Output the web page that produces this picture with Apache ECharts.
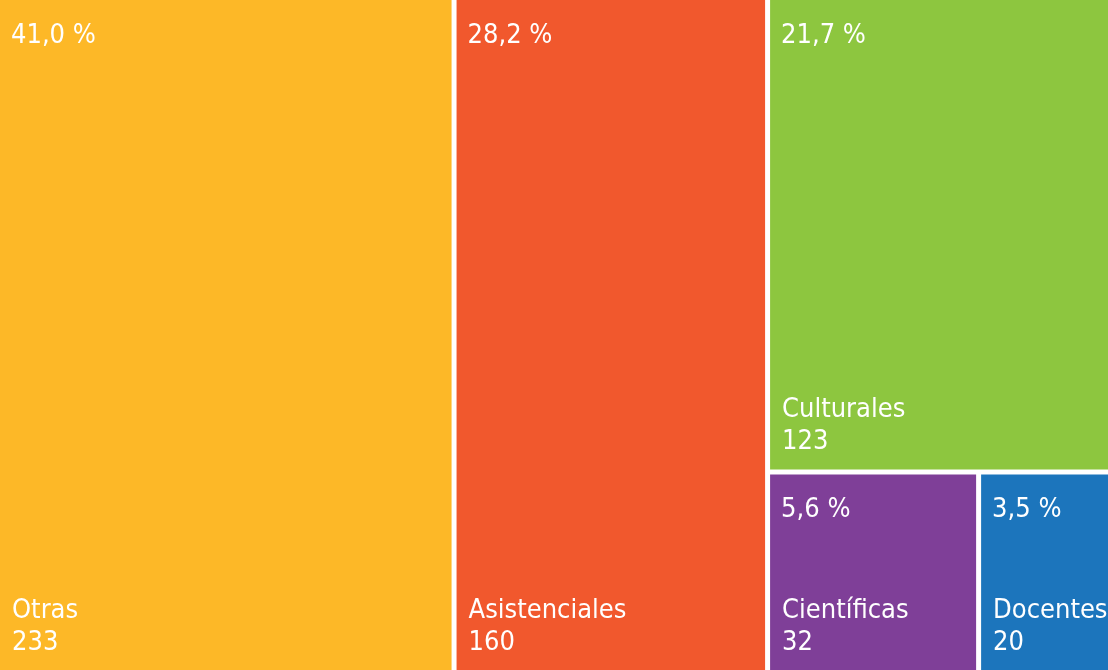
<!DOCTYPE html>
<html>
<head>
<meta charset="utf-8">
<script src="https://cdn.jsdelivr.net/npm/echarts@6/dist/echarts.min.js"></script>
<style>
  html, body { margin: 0; padding: 0; background: #ffffff; }
  #chart { width: 1108px; height: 670px; }
</style>
</head>
<body>
<div id="chart"></div>
<script>
// ---- data ----
const categories = ['Otras', 'Asistenciales', 'Culturales', 'Científicas', 'Docentes'];
const values = [233, 160, 123, 32, 20];
const colors = ['#FDB827', '#F1582D', '#8DC63F', '#7F3F98', '#1C75BC'];

const total = values.reduce((a, b) => a + b, 0);
const FONT = "'DejaVu Sans', sans-serif";

function leaf(i, transparent) {
  return {
    name: categories[i],
    value: values[i],
    itemStyle: { color: transparent ? 'rgba(0,0,0,0)' : colors[i] }
  };
}
// nested hierarchy: each item sits beside the group of the remaining ones
function nest(i, transparent) {
  if (i === categories.length - 2) {
    return [leaf(i, transparent), leaf(i + 1, transparent)];
  }
  const rest = nest(i + 1, transparent);
  return [leaf(i, transparent), { name: 'g' + i, children: rest }];
}

function pct(v) {
  return (v / total * 100).toFixed(1).replace('.', ',') + ' %';
}

const common = {
  type: 'treemap',
  left: 0, top: 0, right: 0, bottom: 0,
  sort: false,
  roam: false,
  nodeClick: false,
  squareRatio: 0.5 * (1 + Math.sqrt(5)),
  breadcrumb: { show: false },
  animation: false,
  emphasis: { disabled: true },
  upperLabel: { show: false }
};

const option = {
  backgroundColor: '#ffffff',
  animation: false,
  series: [
    Object.assign({}, common, {
      name: 'main',
      itemStyle: { borderWidth: 0, gapWidth: 5, borderColor: '#ffffff' },
      levels: [
        { itemStyle: { borderWidth: 0, gapWidth: 5, borderColor: '#ffffff' } },
        { itemStyle: { borderWidth: 0, gapWidth: 5, borderColor: '#ffffff' } },
        { itemStyle: { borderWidth: 0, gapWidth: 5, borderColor: '#ffffff' } },
        { itemStyle: { borderWidth: 0, gapWidth: 5, borderColor: '#ffffff' } }
      ],
      label: {
        show: true,
        position: 'insideTopLeft',
        distance: 0,
        padding: [20, 0, 0, 11],
        color: '#ffffff',
        fontFamily: FONT,
        fontWeight: 'condensed',
        fontSize: 27,
        lineHeight: 32,
        overflow: 'none',
        formatter: p => pct(p.value)
      },
      data: nest(0, false)
    }),
    Object.assign({}, common, {
      name: 'overlay',
      silent: true,
      itemStyle: { borderWidth: 0, gapWidth: 5, borderColor: 'rgba(0,0,0,0)', color: 'rgba(0,0,0,0)' },
      levels: [
        { itemStyle: { borderWidth: 0, gapWidth: 5, borderColor: 'rgba(0,0,0,0)' } },
        { itemStyle: { borderWidth: 0, gapWidth: 5, borderColor: 'rgba(0,0,0,0)' } },
        { itemStyle: { borderWidth: 0, gapWidth: 5, borderColor: 'rgba(0,0,0,0)' } },
        { itemStyle: { borderWidth: 0, gapWidth: 5, borderColor: 'rgba(0,0,0,0)' } }
      ],
      label: {
        show: true,
        position: 'insideBottomLeft',
        distance: 0,
        padding: [0, 0, 11, 12],
        color: '#ffffff',
        fontFamily: FONT,
        fontWeight: 'condensed',
        fontSize: 27,
        lineHeight: 32,
        overflow: 'none',
        formatter: p => p.name + '\n' + p.value
      },
      data: nest(0, true)
    })
  ]
};

const chart = echarts.init(document.getElementById('chart'), null, { renderer: 'canvas' });
chart.setOption(option);
</script>
</body>
</html>
